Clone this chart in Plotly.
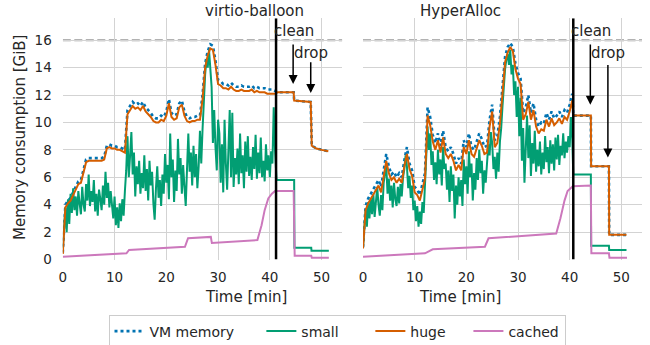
import numpy as np
import plotly.graph_objects as go

# ---------------- data (GiB vs minutes) ----------------
# virtio-balloon
vb_t_vm = list(np.arange(0, 41.01, 0.5)) + [41.5, 44.6, 44.7, 47.9, 48.1, 49.0, 50.0, 51.3]
vb_vm = [0.5, 4.0, 4.3, 4.5, 4.9, 5.3, 5.7, 5.8, 6.6, 7.3,
         7.4, 7.4, 7.4, 7.4, 7.4, 7.4, 7.5, 8.3, 8.4, 8.3,
         8.3, 8.2, 8.2, 8.1, 8.0, 10.9, 11.2, 11.5, 11.3, 11.4,
         11.2, 11.5, 11.1, 10.9, 10.7, 10.4, 10.3, 10.3, 10.5, 10.4,
         10.8, 11.7, 10.7, 10.5, 10.6, 11.4, 11.6, 10.8, 10.4, 10.3,
         10.4, 10.4, 10.5, 10.5, 12.0, 14.3, 15.2, 15.7, 15.6, 14.5,
         13.1, 13.0, 12.8, 12.8, 12.7, 12.9, 12.7, 12.6, 12.6, 12.7,
         12.6, 12.6, 12.6, 12.7, 12.5, 12.6, 12.5, 12.5, 12.5, 12.4,
         12.4, 12.4, 12.3,
         12.2, 12.2, 11.6, 11.5, 8.3, 8.1, 8.0, 7.9]
vb_huge = [0.4, 3.8, 4.1, 4.3, 4.7, 5.1, 5.5, 5.6, 6.4, 7.1,
           7.2, 7.2, 7.2, 7.2, 7.2, 7.2, 7.3, 8.1, 8.2, 8.1,
           8.1, 8.0, 8.0, 7.9, 7.8, 10.6, 10.9, 11.2, 11.0, 11.1,
           10.9, 11.2, 10.8, 10.6, 10.4, 10.1, 10.0, 10.0, 10.2, 10.1,
           10.5, 11.4, 10.4, 10.2, 10.3, 11.1, 11.3, 10.5, 10.1, 10.0,
           10.1, 10.1, 10.2, 10.2, 11.7, 14.0, 14.9, 15.4, 15.3, 14.2,
           12.8, 12.7, 12.5, 12.5, 12.4, 12.6, 12.4, 12.3, 12.3, 12.4,
           12.3, 12.3, 12.3, 12.4, 12.2, 12.3, 12.2, 12.2, 12.2, 12.1,
           12.1, 12.1, 12.1,
           12.2, 12.2, 11.6, 11.5, 8.3, 8.1, 8.0, 7.9]
vb_t_small = list(np.arange(0, 41.01, 0.25)) + [41.3, 44.7, 44.75, 48.0, 48.05, 51.4]
vb_small = [0.8, 2.5, 3.8, 2.0, 4.4, 2.6, 4.8, 3.4, 5.2, 3.6, 4.6, 3.2,
            5.0, 4.1, 3.3, 5.3, 4.0, 3.5, 5.5, 4.3, 6.2, 3.9, 5.0, 4.2,
            5.8, 3.5, 4.8, 3.2, 5.1, 4.4, 3.6, 5.4, 4.0, 6.4, 4.5, 5.6,
            3.8, 5.0, 4.2, 3.0, 4.6, 2.5, 3.8, 2.3, 4.1, 2.8, 4.4, 3.2,
            5.0, 6.5, 9.0, 6.0, 7.6, 9.3, 6.2, 7.8, 4.6, 6.8, 5.5, 7.2,
            4.8, 6.3, 5.2, 7.6, 5.0, 6.6, 4.3, 7.2, 5.4, 6.4, 4.1, 2.9,
            5.2, 6.8, 4.5, 5.8, 3.9, 6.2, 4.8, 7.7, 5.6, 6.9, 4.4, 9.2,
            6.0, 7.3, 4.2, 6.5, 5.0, 8.8, 6.2, 7.4, 4.8, 6.9, 5.3, 3.9,
            6.6, 9.2, 6.4, 7.8, 5.4, 8.3, 6.0, 7.7, 5.2, 6.8, 9.4, 7.0,
            9.5, 11.8, 13.5, 14.6, 14.0, 15.3, 13.8, 12.6, 8.5, 10.9, 8.2, 6.5,
            10.2, 9.2, 5.6, 8.4, 4.9, 10.2, 7.0, 5.1, 8.0, 10.9, 6.0, 10.7,
            5.3, 7.4, 6.2, 8.1, 5.5, 9.2, 6.3, 7.6, 5.2, 8.6, 6.4, 9.0,
            6.1, 7.5, 5.8, 8.2, 6.6, 9.1, 5.9, 7.8, 6.3, 8.9, 6.0, 7.2,
            5.7, 8.4, 6.5, 7.6, 6.0, 7.9, 7.0, 11.1, 8.0,
            5.8, 5.8, 0.86, 0.86, 0.64, 0.64]
vb_t_cached = [0, 12.3, 12.8, 23.6, 24.2, 28.6, 28.8, 37.6, 38.4, 39.0, 39.7,
               40.4, 41.0, 44.6, 44.8, 48.0, 48.1, 51.4]
vb_cached = [0.2, 0.45, 0.7, 0.93, 1.55, 1.65, 1.2, 1.42, 2.5, 3.6, 4.45,
             4.8, 5.0, 5.0, 0.28, 0.28, 0.13, 0.13]

# HyperAlloc
ha_t_vm = list(np.arange(0, 40.51, 0.5)) + [40.7, 44.1, 44.15, 47.6, 47.65, 51.0]
ha_vm = [0.9, 3.9, 4.45, 4.8, 5.1, 5.4, 5.8, 5.3, 6.5, 7.7,
         6.8, 6.2, 6.4, 6.0, 6.3, 6.0, 7.25, 8.2, 7.0, 6.5,
         5.3, 5.1, 4.7, 5.55, 6.3, 11.1, 10.4, 9.1, 8.5, 9.2,
         8.3, 9.4, 8.2, 7.9, 8.2, 7.7, 7.0, 7.4, 7.0, 8.7,
         8.2, 9.2, 8.2, 8.0, 8.7, 9.2, 8.8, 8.2, 8.3, 10.2,
         11.3, 8.7, 9.0, 10.4, 12.6, 14.8, 15.5, 15.8, 15.5, 14.3,
         13.6, 13.2, 10.7, 11.1, 12.0, 10.7, 11.4, 10.2, 9.7, 10.0,
         9.9, 10.7, 10.2, 10.8, 10.3, 10.5, 10.8, 10.4, 10.9, 10.7,
         11.3, 12.1,
         10.5, 10.5, 6.8, 6.8, 1.8, 1.8]
ha_huge = [0.8, 3.6, 4.1, 4.4, 4.7, 5.0, 5.4, 4.9, 6.1, 7.2,
           6.3, 5.8, 6.0, 5.6, 5.9, 5.6, 6.8, 7.7, 6.6, 6.1,
           4.9, 4.7, 4.3, 5.1, 5.9, 10.5, 9.8, 8.6, 8.0, 8.7,
           7.8, 8.9, 7.7, 7.4, 7.7, 7.2, 6.5, 6.9, 6.5, 8.2,
           7.7, 8.7, 7.7, 7.5, 8.2, 8.7, 8.3, 7.7, 7.8, 9.7,
           10.8, 8.2, 8.5, 9.9, 12.1, 14.4, 15.1, 15.5, 15.2, 13.9,
           13.2, 12.8, 10.2, 10.6, 11.5, 10.2, 10.9, 9.7, 9.2, 9.5,
           9.4, 10.2, 9.7, 10.3, 9.8, 10.0, 10.3, 9.9, 10.4, 10.2,
           10.8, 11.6,
           10.5, 10.5, 6.8, 6.8, 1.8, 1.8]
ha_t_small = list(np.arange(0, 40.51, 0.25)) + [40.7, 44.1, 44.15, 47.6, 47.65, 51.0]
ha_small = [0.9, 2.6, 3.6, 2.4, 4.2, 3.0, 4.5, 3.3, 4.8, 3.1, 4.4, 5.3,
            4.0, 3.2, 4.7, 3.6, 5.6, 6.2, 6.9, 4.8, 5.9, 4.3, 5.4, 3.8,
            5.6, 4.4, 3.9, 5.3, 4.1, 5.5, 4.6, 6.0, 6.6, 7.6, 6.8, 5.2,
            6.1, 4.5, 5.4, 3.6, 4.3, 2.8, 3.9, 2.4, 3.5, 2.6, 4.2, 3.4,
            5.4, 7.8, 9.7, 8.0, 9.2, 6.9, 7.9, 5.8, 7.1, 5.5, 8.0, 6.2,
            7.3, 5.4, 8.2, 6.6, 7.0, 5.1, 6.5, 4.2, 6.8, 5.0, 6.2, 3.0,
            5.4, 4.0, 6.0, 4.6, 5.8, 3.9, 7.3, 5.5, 6.8, 4.8, 7.9, 6.0,
            7.0, 4.3, 6.3, 5.1, 7.4, 5.8, 8.0, 6.3, 7.2, 4.8, 6.5, 5.6,
            7.0, 8.4, 7.6, 9.3, 8.5, 6.6, 7.5, 5.9, 7.8, 6.4, 8.6, 9.6,
            11.2, 12.8, 13.9, 14.6, 15.0, 14.2, 15.3, 13.5, 14.2, 12.0, 13.0, 10.4,
            12.6, 9.0, 11.8, 7.2, 9.6, 5.6, 8.8, 10.5, 7.4, 9.8, 6.1, 8.5,
            7.0, 9.4, 6.4, 8.0, 6.8, 8.6, 6.2, 7.8, 6.6, 9.0, 7.1, 8.2,
            6.3, 8.7, 7.0, 8.4, 6.5, 8.9, 7.3, 9.1, 6.9, 8.3, 7.6, 9.2,
            7.4, 8.6, 7.8, 9.0, 8.2, 10.4, 8.8,
            6.2, 6.2, 1.0, 1.0, 0.7, 0.7]
ha_t_cached = [0, 12.0, 13.5, 23.6, 24.3, 37.4, 38.2, 39.0, 39.6, 40.6,
               44.1, 44.2, 47.6, 47.7, 51.1]
ha_cached = [0.2, 0.45, 0.74, 0.93, 1.55, 1.9, 3.0, 4.3, 5.0, 5.35,
             5.4, 0.45, 0.45, 0.13, 0.13]

# events (min) and annotation anchors: (x, arrow tail, arrow head)
vb_event = 41.2
ha_event = 40.7
vb_clean = (44.5, 15.8, 12.8)
vb_drop = (47.9, 14.5, 12.15)
ha_clean = (44.0, 15.8, 11.3)
ha_drop = (47.4, 14.3, 7.45)
mem_limit = 16

series_names = ["VM memory", "small", "huge", "cached"]
colors = {"VM memory": "#0173b2", "small": "#029e73", "huge": "#d55e00", "cached": "#cc78bc"}

FONT = "DejaVu Sans"
TXT = "#262626"
NB = "\u00a0"
legend_labels = {"VM memory": "VM memory" + NB * 5, "small": "small" + NB * 6,
                 "huge": "huge" + NB * 4, "cached": "cached"}

fig = go.Figure()

panels = [
    ("x", "y", vb_t_vm, vb_vm, vb_huge, vb_t_small, vb_small, vb_t_cached, vb_cached, True),
    ("x2", "y2", ha_t_vm, ha_vm, ha_huge, ha_t_small, ha_small, ha_t_cached, ha_cached, False),
]
for xa, ya, tvm, vm, hg, ts, sm, tc, cc, show in panels:
    fig.add_trace(go.Scatter(x=tvm, y=vm, mode="lines", name=legend_labels["VM memory"], xaxis=xa, yaxis=ya,
                             line=dict(color=colors["VM memory"], width=2.6, dash="dot"),
                             showlegend=show))
    fig.add_trace(go.Scatter(x=ts, y=sm, mode="lines", name=legend_labels["small"], xaxis=xa, yaxis=ya,
                             line=dict(color=colors["small"], width=2), showlegend=show))
    fig.add_trace(go.Scatter(x=tvm, y=hg, mode="lines", name=legend_labels["huge"], xaxis=xa, yaxis=ya,
                             line=dict(color=colors["huge"], width=2), showlegend=show))
    fig.add_trace(go.Scatter(x=tc, y=cc, mode="lines", name=legend_labels["cached"], xaxis=xa, yaxis=ya,
                             line=dict(color=colors["cached"], width=2), showlegend=show))

XMAX = 54
YMAX = 17.6
shapes = []
for xa, ya, ev in [("x", "y", vb_event), ("x2", "y2", ha_event)]:
    shapes.append(dict(type="line", xref=xa, yref=ya, x0=0, x1=XMAX, y0=mem_limit, y1=mem_limit,
                       line=dict(color="#999999", width=2, dash="8px,3.5px"), layer="below"))
    shapes.append(dict(type="line", xref=xa, yref=ya, x0=ev, x1=ev, y0=0, y1=YMAX,
                       line=dict(color="black", width=2.5), layer="above"))

annotations = []
for xa, ya, cl, dr in [("x", "y", vb_clean, vb_drop), ("x2", "y2", ha_clean, ha_drop)]:
    for (xx, ytail, yhead), label, ytxt in [(cl, "clean", 16.65), (dr, "drop", 15.1)]:
        annotations.append(dict(x=xx, y=yhead, ax=xx, ay=ytail, xref=xa, yref=ya, axref=xa, ayref=ya,
                                text="", showarrow=True, arrowhead=2, arrowsize=1.2, arrowwidth=1.5,
                                arrowcolor="black"))
        annotations.append(dict(x=xx + 0.1, y=ytxt, xref=xa, yref=ya, text=label, showarrow=False,
                                font=dict(family=FONT, size=15, color=TXT)))

# panel titles and axis titles
annotations += [
    dict(text="virtio-balloon", x=202.5 / 650, y=1 - 10.5 / 345, xref="paper", yref="paper",
         showarrow=False, font=dict(family=FONT, size=15, color=TXT), yanchor="middle"),
    dict(text="HyperAlloc", x=502.5 / 650, y=1 - 10.5 / 345, xref="paper", yref="paper",
         showarrow=False, font=dict(family=FONT, size=15, color=TXT), yanchor="middle"),
    dict(text="Time [min]", x=202.5 / 650, y=1 - 297 / 345, xref="paper", yref="paper",
         showarrow=False, font=dict(family=FONT, size=15, color=TXT), yanchor="middle"),
    dict(text="Time [min]", x=502.5 / 650, y=1 - 297 / 345, xref="paper", yref="paper",
         showarrow=False, font=dict(family=FONT, size=15, color=TXT), yanchor="middle"),
    dict(text="Memory consumption [GiB]", x=20 / 650, y=1 - 138 / 345, xref="paper", yref="paper",
         showarrow=False, textangle=-90, font=dict(family=FONT, size=15, color=TXT),
         xanchor="center", yanchor="middle"),
]

ydom = [(345 - 259.5) / 345, (345 - 18.3) / 345]
axis_common = dict(showgrid=True, gridcolor="#d3d3d3", gridwidth=1.2, zeroline=False,
                   showline=False, tickfont=dict(family=FONT, size=13.5, color=TXT))
xticks = [0, 10, 20, 30, 40, 50]
yticks = [0, 2, 4, 6, 8, 10, 12, 14, 16]

fig.update_layout(
    width=650, height=345,
    margin=dict(l=0, r=0, t=0, b=0, autoexpand=False),
    paper_bgcolor="white", plot_bgcolor="white",
    font=dict(family=FONT, color=TXT),
    xaxis=dict(domain=[62.8 / 650, 342.3 / 650], range=[0, XMAX], tickvals=xticks, anchor="y",
               ticklabelstandoff=8, automargin=False, **axis_common),
    xaxis2=dict(domain=[363 / 650, 642 / 650], range=[0, XMAX], tickvals=xticks, anchor="y2",
                ticklabelstandoff=8, automargin=False, **axis_common),
    yaxis=dict(domain=ydom, range=[0, YMAX], tickvals=yticks, anchor="x",
               ticklabelstandoff=10, automargin=False, **axis_common),
    yaxis2=dict(domain=ydom, range=[0, YMAX], tickvals=yticks, anchor="x2", showticklabels=False,
                automargin=False, **axis_common),
    shapes=shapes,
    annotations=annotations,
    showlegend=True,
    legend=dict(orientation="h", x=337 / 650, xanchor="center", y=1 - 314.5 / 345, yanchor="top",
                bordercolor="#cccccc", borderwidth=1, bgcolor="white",
                font=dict(family=FONT, size=14, color=TXT), itemwidth=30,
                traceorder="normal"),
)

fig.write_html("out.html")
